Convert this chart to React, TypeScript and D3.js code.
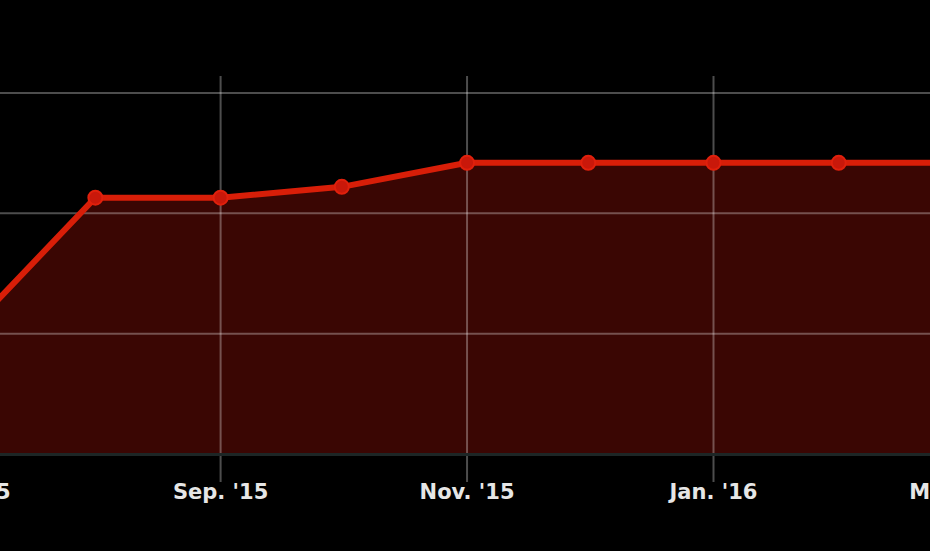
import React from "react";
import * as d3 from "d3";

const W = 930;
const H = 551;

// Monthly data points (first of each month)
const months: string[] = [
  "2015-07-01", "2015-08-01", "2015-09-01", "2015-10-01", "2015-11-01",
  "2015-12-01", "2016-01-01", "2016-02-01", "2016-03-01",
];
const values: number[] = [10.4, 21.3, 21.3, 22.2, 24.2, 24.2, 24.2, 24.2, 24.2];

const yTicks: number[] = [0, 10, 20, 30];
const xTickDates: string[] = ["2015-07-01", "2015-09-01", "2015-11-01", "2016-01-01", "2016-03-01"];
const xTickLabels: string[] = ["Jul. '15", "Sep. '15", "Nov. '15", "Jan. '16", "Mar. '16"];

const parse = d3.timeParse("%Y-%m-%d");

export default function App() {
  const x = d3
    .scaleTime()
    .domain([parse("2015-09-01")!, parse("2016-01-01")!])
    .range([220.6, 713.5]);
  const y = d3.scaleLinear().domain([0, 30]).range([454, 93]);

  const data = months.map((m, i) => ({ d: parse(m)!, v: values[i] }));

  const line = d3
    .line<{ d: Date; v: number }>()
    .x((p) => x(p.d))
    .y((p) => y(p.v));
  const area = d3
    .area<{ d: Date; v: number }>()
    .x((p) => x(p.d))
    .y0(y(0))
    .y1((p) => y(p.v));

  const gridColor = "rgba(255,255,255,0.3)";

  return (
    <svg
      width={W}
      height={H}
      style={{ position: "absolute", left: 0, top: 0, display: "block", background: "#000" }}
    >
      <rect x={0} y={0} width={W} height={H} fill="#000" />
      <path d={area(data) || ""} fill="#3a0603" />
      {yTicks
        .filter((t) => t > 0)
        .map((t) => (
          <line key={t} x1={0} x2={W} y1={y(t)} y2={y(t)} stroke={gridColor} strokeWidth={2} />
        ))}
      {xTickDates.map((s) => {
        const xx = x(parse(s)!);
        return <line key={s} x1={xx} x2={xx} y1={76} y2={482} stroke={gridColor} strokeWidth={2} />;
      })}
      <line x1={0} x2={W} y1={y(0) + 0.5} y2={y(0) + 0.5} stroke="#1d2626" strokeWidth={3} />
      <path d={line(data) || ""} fill="none" stroke="#d81e08" strokeWidth={6} strokeLinejoin="round" />
      {data.map((p, i) => (
        <circle key={i} cx={x(p.d)} cy={y(p.v)} r={7} fill="#c9180a" stroke="#e0200c" strokeWidth={2} />
      ))}
      {xTickDates.map((s, i) => (
        <text
          key={s}
          x={x(parse(s)!)}
          y={499}
          textAnchor="middle"
          fill="#e6e6e6"
          fontFamily="DejaVu Sans"
          fontWeight="bold"
          fontSize={21}
        >
          {xTickLabels[i]}
        </text>
      ))}
    </svg>
  );
}
